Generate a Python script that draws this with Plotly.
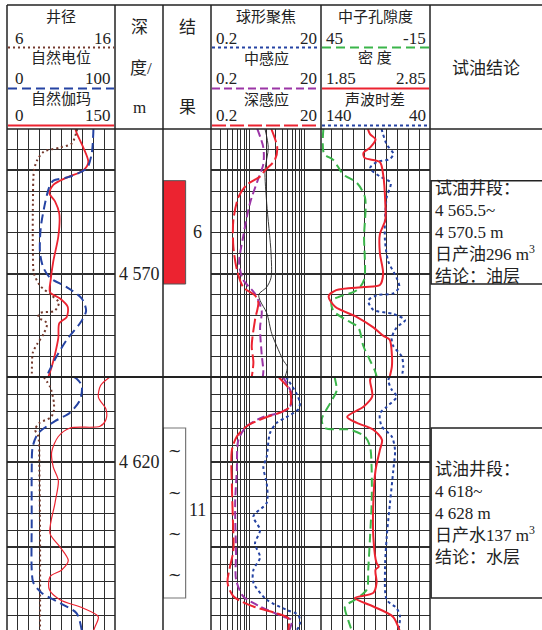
import math
import plotly.graph_objects as go

W, H = 542, 630
FONT = "Liberation Serif, 'Noto Sans CJK SC', serif"

# ---------------- data: upper interval (4563-4575 m) ----------------
cal_top_depth = [4563.0, 4563.2, 4563.7, 4563.9, 4564.1, 4564.5, 4565.0, 4566.6, 4569.0, 4570.0, 4570.6, 4571.0,
                 4571.4, 4571.8, 4571.9, 4572.1, 4572.4, 4572.9, 4573.4, 4573.8, 4574.8, 4575.0]
cal_top = [12.5, 12.4, 12.0, 10.9, 9.4, 8.8, 8.5, 8.4, 8.4, 8.5, 9.1, 10.0, 10.8, 10.4, 9.1, 8.9, 9.7, 9.4, 8.8, 8.4,
           8.3, 8.3]
sp_top_depth = [4563.0, 4563.2, 4564.2, 4564.9, 4565.35, 4565.5, 4565.8, 4566.6, 4567.8, 4569.0, 4569.7, 4570.2,
                4570.65, 4571.2, 4571.8, 4572.4, 4573.2, 4574.0, 4574.8, 4575.0]
sp_top = [80.0, 79.9, 78.4, 73.8, 55.3, 42.9, 39.2, 35.2, 31.2, 30.6, 33.6, 39.8, 55.3, 69.2, 73.2, 67.6, 55.3, 46.0,
          38.2, 37.0]
gr_top_depth = [4563.0, 4563.2, 4563.9, 4564.6, 4565.0, 4565.35, 4565.7, 4566.1, 4566.5, 4567.1, 4568.2, 4569.4,
                4570.3, 4570.9, 4571.2, 4571.6, 4572.1, 4572.4, 4573.1, 4573.9, 4574.5, 4575.0]
gr_top = [95.0, 96.8, 106.0, 112.9, 106.0, 82.9, 64.3, 58.8, 66.7, 72.6, 71.3, 64.3, 60.7, 59.7, 73.6, 84.3, 82.9,
          72.6, 71.3, 66.7, 62.1, 57.4]

rd_top_depth = [4563.0, 4563.9, 4564.5, 4565.0, 4565.3, 4565.7, 4566.3, 4567.4, 4568.7, 4569.8, 4570.65, 4571.05,
                4571.4, 4572.25, 4573.5, 4574.3, 4575.0]
rd_top = [2.5, 3.2, 2.9, 1.92, 1.56, 0.89, 0.63, 0.51, 0.51, 0.59, 0.77, 1.26, 1.45, 1.26, 1.10, 1.18, 1.10]
rm_top_depth = [4563.0, 4563.9, 4564.7, 4565.4, 4566.6, 4568.2, 4569.5, 4570.3, 4570.97, 4571.8, 4572.6, 4573.9,
                4574.7, 4575.0]
rm_top = [1.39, 1.79, 1.79, 1.45, 1.02, 0.77, 0.65, 0.77, 1.26, 1.67, 1.56, 1.67, 1.79, 1.75]
rs_top_depth = [4563.0, 4563.9, 4565.0, 4566.6, 4569.0, 4570.2, 4570.65, 4571.0, 4571.3, 4571.9, 4572.9, 4573.5,
                4574.2, 4574.5, 4575.0]
rs_top = [1.92, 2.20, 1.92, 2.06, 2.47, 2.47, 2.06, 1.48, 1.56, 2.06, 2.54, 3.13, 4.13, 4.88, 4.43]

cnl_top_depth = [4563.0, 4564.2, 4564.5, 4565.2, 4565.6, 4566.3, 4568.2, 4570.3, 4570.8, 4571.1, 4571.3, 4571.8,
                 4572.25, 4572.6, 4573.5, 4574.2, 4574.7, 4575.0]
cnl_top = [43.7, 43.3, 38.2, 32.7, 25.3, 20.8, 21.3, 21.3, 25.3, 34.5, 39.1, 38.2, 30.9, 24.5, 21.7, 18.0, 15.3, 14.3]
den_top_depth = [4563.0, 4563.25, 4563.5, 4563.9, 4564.15, 4564.4, 4564.6, 4565.2, 4566.6, 4567.4, 4568.1, 4569.0,
                 4570.0, 4570.55, 4570.65, 4570.8, 4571.1, 4571.6, 4572.1, 4572.6, 4573.0, 4573.2, 4573.9, 4574.5,
                 4575.0]
den_top = [2.28, 2.30, 2.35, 2.30, 2.24, 2.25, 2.39, 2.42, 2.44, 2.44, 2.39, 2.39, 2.42, 2.39, 2.24, 1.99, 1.92, 1.98,
           2.18, 2.33, 2.42, 2.48, 2.50, 2.50, 2.48]
ac_top_depth = [4563.0, 4563.75, 4564.2, 4564.45, 4564.6, 4564.9, 4565.3, 4565.6, 4566.3, 4567.4, 4568.4, 4569.4,
                4570.2, 4570.65, 4570.95, 4571.05, 4571.3, 4571.75, 4571.95, 4572.25, 4572.6, 4573.1, 4573.5, 4574.0,
                4574.5, 4575.0]
ac_top = [84.5, 79.7, 73.7, 76.7, 88.9, 95.0, 85.9, 76.1, 79.7, 81.3, 81.3, 78.3, 70.6, 68.2, 73.7, 88.9, 96.6, 92.0,
          73.7, 62.9, 70.6, 75.1, 73.7, 66.0, 64.5, 66.0]

# ---------------- data: lower interval (4615-4630 m) ----------------
cal_bot_depth = [4615.0, 4615.6, 4616.55, 4617.1, 4617.4, 4617.7, 4618.1, 4618.5, 4620.5, 4624.4, 4629.9]
cal_bot = [9.4, 10.0, 10.35, 10.3, 10.0, 9.0, 8.6, 8.9, 9.0, 9.06, 9.06]
sp_bot_depth = [4615.0, 4615.1, 4615.5, 4616.35, 4617.1, 4617.6, 4618.3, 4619.1, 4620.5, 4623.4, 4626.35, 4627.1,
                4627.7, 4628.3, 4628.9, 4629.9]
sp_bot = [62.0, 64.5, 69.2, 67.6, 58.3, 44.4, 29.0, 23.8, 22.9, 22.9, 22.9, 24.4, 32.1, 49.1, 64.5, 69.2]
gr_bot_depth = [4615.0, 4615.5, 4616.2, 4616.9, 4617.5, 4617.9, 4618.0, 4618.5, 4619.4, 4620.3, 4621.1, 4622.4,
                4624.2, 4625.0, 4625.8, 4626.35, 4626.75, 4627.5, 4628.1, 4628.6, 4629.1, 4629.7, 4630.0]
gr_bot = [143.0, 130.0, 127.0, 137.5, 137.5, 129.2, 87.5, 71.3, 62.1, 64.3, 71.3, 66.7, 59.7, 73.6, 85.1, 76.0, 59.7,
          58.8, 73.6, 106.0, 126.8, 122.2, 119.4]

rd_bot_depth = [4615.0, 4615.2, 4615.8, 4616.75, 4617.1, 4617.35, 4617.9, 4618.5, 4619.3, 4621.45, 4623.4, 4625.2,
                4626.2, 4627.1, 4627.9, 4628.5, 4628.9, 4629.2, 4629.9]
rd_bot = [3.4, 3.86, 5.46, 5.46, 3.59, 2.06, 0.89, 0.59, 0.48, 0.48, 0.50, 0.51, 0.44, 0.40, 0.51, 1.18, 3.13, 5.09,
          5.09]
rm_bot_depth = [4615.0, 4615.2, 4616.0, 4616.75, 4617.1, 4617.35, 4617.9, 4618.7, 4620.5, 4622.4, 4625.4, 4626.9,
                4627.9, 4628.5, 4629.1, 4629.3, 4629.9]
rm_bot = [4.0, 4.43, 5.86, 5.46, 3.59, 1.79, 0.89, 0.63, 0.59, 0.55, 0.57, 0.57, 0.77, 1.56, 4.13, 5.86, 5.3]
rs_bot_depth = [4615.0, 4615.2, 4616.0, 4616.55, 4616.9, 4617.35, 4617.7, 4618.3, 4619.7, 4620.3, 4621.25, 4622.4,
                4623.2, 4624.0, 4624.8, 4625.6, 4626.35, 4627.1, 4628.1, 4628.7, 4629.0, 4629.5, 4629.9]
rs_bot = [4.6, 5.09, 7.23, 8.30, 7.73, 4.76, 3.13, 2.36, 2.06, 1.79, 2.06, 2.06, 1.18, 1.56, 1.26, 1.56, 1.18, 1.18,
          2.06, 4.76, 7.73, 8.30, 7.23]

cnl_bot_depth = [4615.0, 4615.1, 4615.8, 4616.55, 4617.5, 4618.0, 4618.1, 4618.5, 4619.1, 4620.5, 4622.4, 4624.4,
                 4626.35, 4627.5, 4628.1, 4628.5, 4629.3, 4629.9]
cnl_bot = [37.5, 37.3, 36.4, 40.0, 44.6, 42.8, 29.0, 20.8, 18.0, 17.1, 17.1, 18.0, 19.0, 19.8, 26.3, 31.8, 30.0, 28.1]
den_bot_depth = [4615.0, 4615.2, 4616.15, 4616.75, 4617.35, 4617.7, 4618.1, 4618.7, 4619.3, 4620.5, 4622.4, 4624.4,
                 4625.95, 4626.15, 4626.35, 4627.1, 4627.7, 4628.0, 4628.5, 4629.1, 4629.9]
den_bot = [2.31, 2.30, 2.32, 2.24, 2.09, 2.18, 2.33, 2.41, 2.39, 2.35, 2.33, 2.33, 2.36, 2.38, 2.35, 2.36, 2.33, 2.16,
           2.33, 2.51, 2.57]
ac_bot_depth = [4615.0, 4615.2, 4615.75, 4616.15, 4616.75, 4617.15, 4617.9, 4618.5, 4619.3, 4620.5, 4622.4, 4624.4,
                4626.35, 4628.1, 4628.6, 4629.1, 4629.9]
ac_bot = [77.0, 78.3, 75.1, 70.6, 79.7, 85.9, 84.3, 75.1, 72.1, 73.7, 76.7, 79.7, 81.3, 79.7, 70.6, 67.5, 69.1]

# ---------------- interpretation ----------------
test_top = [4565.5, 4618.0]
test_bottom = [4570.5, 4628.0]
layer_no = ["6", "11"]
layer_label_depth = [4568.0, 4622.8]
water_sign_depth = [4619.3, 4621.8, 4624.2, 4626.6]
depth_label_values = [4570, 4620]
depth_label_text = ["4 570", "4 620"]
conclusion_text = ["试油井段：<br>4 565.5~<br>4 570.5 m<br>日产油296 m<sup>3</sup><br>结论：油层",
                   "试油井段：<br>4 618~<br>4 628 m<br>日产水137 m<sup>3</sup><br>结论：水层"]

top_range = [4575, 4563]
bot_range = [4615 + 253 / 17.0, 4615]

# ---------------- styles ----------------
RED = "#ec2330"
BLUE = "#2543a3"
PURPLE = "#9b35a6"
GREEN = "#3bb54a"
BROWN = "#74392c"
GRID = "#2e2e2e"
TXT = "#222222"


def xd(a, b):
    return [a / W, b / W]


def yd(top, bottom):
    return [max(0.0, 1 - bottom / H), 1 - top / H]


fig = go.Figure()


def curve(depth, vals, xa, ya, color, width, dash):
    fig.add_trace(go.Scatter(x=vals, y=depth, xaxis=xa, yaxis=ya, mode="lines",
                             line=dict(color=color, width=width, dash=dash, shape="spline", smoothing=0.8),
                             hoverinfo="skip", showlegend=False))


# track 1
curve(gr_top_depth, gr_top, "x", "y", RED, 1.8, "solid")
curve(gr_bot_depth, gr_bot, "x", "y2", RED, 1.2, "solid")
curve(cal_top_depth, cal_top, "x2", "y", BROWN, 2, "2px,3px")
curve(cal_bot_depth, cal_bot, "x2", "y2", BROWN, 2, "2px,3px")
curve(sp_top_depth, sp_top, "x3", "y", BLUE, 2, "9px,5px")
curve(sp_bot_depth, sp_bot, "x3", "y2", BLUE, 2, "9px,5px")
# resistivity track
curve(rs_top_depth, rs_top, "x4", "y", "#222222", 0.9, "solid")
curve(rs_bot_depth, rs_bot, "x4", "y2", BLUE, 2, "3px,3px")
curve(rm_top_depth, rm_top, "x4", "y", PURPLE, 2, "8px,4px")
curve(rm_bot_depth, rm_bot, "x4", "y2", PURPLE, 2, "8px,4px")
curve(rd_top_depth, rd_top, "x4", "y", RED, 2, "14px,4px")
curve(rd_bot_depth, rd_bot, "x4", "y2", RED, 2, "14px,4px")
# porosity track
curve(ac_top_depth, ac_top, "x5", "y", BLUE, 2, "3px,3px")
curve(ac_bot_depth, ac_bot, "x5", "y2", BLUE, 2, "3px,3px")
curve(cnl_top_depth, cnl_top, "x6", "y", GREEN, 2, "9px,5px")
curve(cnl_bot_depth, cnl_bot, "x6", "y2", GREEN, 2, "9px,5px")
curve(den_top_depth, den_top, "x7", "y", RED, 2, "solid")
curve(den_bot_depth, den_bot, "x7", "y2", RED, 2, "solid")

# result column bars (test intervals)
fig.add_trace(go.Bar(x=[0.5], y=[test_bottom[0] - test_top[0]], base=[test_top[0]], width=[0.98],
                     xaxis="x9", yaxis="y3", marker=dict(color=RED, line=dict(color="#555", width=1)),
                     hoverinfo="skip", showlegend=False))
fig.add_trace(go.Bar(x=[0.5], y=[test_bottom[1] - test_top[1]], base=[test_top[1]], width=[0.98],
                     xaxis="x9", yaxis="y4", marker=dict(color="white", line=dict(color="#777", width=1.2)),
                     hoverinfo="skip", showlegend=False))
# invisible anchors so that the no-grid subplots exist
for xa, ya, yv in [("x8", "y3", 4569), ("x8", "y4", 4620), ("x10", "y3", 4569), ("x10", "y4", 4620)]:
    fig.add_trace(go.Scatter(x=[0.5], y=[yv], xaxis=xa, yaxis=ya, mode="markers",
                             marker=dict(opacity=0, size=1), hoverinfo="skip", showlegend=False))


def atext(xref, yref, x, y, text, size, xanchor="center", align="center", family=FONT):
    fig.add_annotation(xref=xref, yref=yref, x=x, y=y, text=text, showarrow=False, xanchor=xanchor,
                       yanchor="middle", align=align, font=dict(family=family, size=size, color=TXT))


# depth labels
atext("x8", "y3", 0.5, depth_label_values[0], depth_label_text[0], 18)
atext("x8", "y4", 0.5, depth_label_values[1], depth_label_text[1], 18)
# layer numbers and water signs
atext("x9", "y3", 1.49, layer_label_depth[0], layer_no[0], 18)
atext("x9", "y4", 1.49, layer_label_depth[1], layer_no[1], 18)
for d in water_sign_depth:
    atext("x9", "y4", 0.5, d, "~", 16, family="DejaVu Serif")

hide = dict(showticklabels=False, ticks="", zeroline=False, showline=False)
grid_y = dict(showgrid=True, dtick=5, tick0=4560, gridcolor=GRID, gridwidth=2,
              minor=dict(dtick=1, tick0=4560, showgrid=True, gridcolor=GRID, gridwidth=1), **hide)

fig.update_layout(
    width=W, height=H, margin=dict(l=0, r=0, t=0, b=0),
    paper_bgcolor="white", plot_bgcolor="white", showlegend=False,
    xaxis=dict(domain=xd(7, 115), range=[0, 150], dtick=15, tick0=0, showgrid=True, gridcolor=GRID,
               gridwidth=1, anchor="y", **hide),
    xaxis2=dict(range=[6, 16], overlaying="x", anchor="y", showgrid=False, **hide),
    xaxis3=dict(range=[0, 100], overlaying="x", anchor="y", showgrid=False, **hide),
    xaxis4=dict(domain=xd(211, 321), type="log", range=[math.log10(0.2), math.log10(20)], dtick="D1",
                showgrid=True, gridcolor=GRID, gridwidth=1, anchor="y", **hide),
    xaxis5=dict(domain=xd(321, 430), range=[140, 40], dtick=10, tick0=40, showgrid=True, gridcolor=GRID,
                gridwidth=1, anchor="y", **hide),
    xaxis6=dict(range=[45, -15], overlaying="x5", anchor="y", showgrid=False, **hide),
    xaxis7=dict(range=[1.85, 2.85], overlaying="x5", anchor="y", showgrid=False, **hide),
    xaxis8=dict(domain=xd(115, 163), range=[0, 1], showgrid=False, anchor="y3", **hide),
    xaxis9=dict(domain=xd(163, 211), range=[0, 2.1], showgrid=False, anchor="y3", **hide),
    xaxis10=dict(domain=xd(430, 542), range=[0, 1], showgrid=False, anchor="y3", **hide),
    yaxis=dict(domain=yd(129, 377), range=top_range, anchor="x", **grid_y),
    yaxis2=dict(domain=yd(377, 630), range=bot_range, anchor="x", **grid_y),
    yaxis3=dict(domain=yd(129, 377), range=top_range, anchor="x8", showgrid=False, **hide),
    yaxis4=dict(domain=yd(377, 630), range=bot_range, anchor="x8", showgrid=False, **hide),
)

# conclusion boxes and text
for i, ya in enumerate(["y3", "y4"]):
    fig.add_shape(type="rect", xref="x10", yref=ya, x0=0.01, x1=1.03, y0=test_top[i], y1=test_bottom[i],
                  line=dict(color="#222", width=1.5), fillcolor="rgba(0,0,0,0)")
    atext("x10", ya, 0.025, (test_top[i] + test_bottom[i]) / 2, conclusion_text[i], 17, "left", "left")


def pline(x0, y0, x1, y1, color="#222", width=1.5, dash="solid"):
    fig.add_shape(type="line", xref="paper", yref="paper", x0=x0 / W, x1=x1 / W, y0=1 - y0 / H, y1=1 - y1 / H,
                  line=dict(color=color, width=width, dash=dash))


def ptext(xp, yp, text, size=15, xanchor="center"):
    fig.add_annotation(xref="paper", yref="paper", x=xp / W, y=1 - yp / H, text=text, showarrow=False,
                       xanchor=xanchor, yanchor="middle", font=dict(family=FONT, size=size, color=TXT))


# frame
pline(7, 5, 542, 5)
pline(7, 129, 542, 129)
pline(7, 377, 542, 377, width=2)
for xb in [7, 115, 163, 211, 321, 430]:
    pline(xb, 5, xb, 630, width=1.5)

# header samples
pline(8, 47.5, 114, 47.5, BROWN, 2, "2px,3px")
pline(8, 88.5, 114, 88.5, BLUE, 2, "9px,5px")
pline(8, 125.5, 114, 125.5, RED, 2, "solid")
pline(212, 47.5, 320, 47.5, BLUE, 2, "3px,3px")
pline(212, 88.5, 320, 88.5, PURPLE, 2, "8px,4px")
pline(212, 125.5, 320, 125.5, RED, 2, "14px,4px")
pline(322, 47.5, 429, 47.5, GREEN, 2, "9px,5px")
pline(322, 88.5, 429, 88.5, RED, 2, "solid")
pline(322, 125.5, 429, 125.5, BLUE, 2, "3px,3px")

# header text
ptext(61, 17, "井径", 15)
ptext(13, 38, "6", 17, "left")
ptext(113, 38, "16", 17, "right")
ptext(61, 58, "自然电位", 15)
ptext(13, 78, "0", 17, "left")
ptext(113, 78, "100", 17, "right")
ptext(61, 99, "自然伽玛", 15)
ptext(13, 115, "0", 17, "left")
ptext(113, 115, "150", 17, "right")

ptext(139, 28, "深", 17)
ptext(141, 68, "度/", 17)
ptext(139, 107, "m", 17)
ptext(187, 28, "结", 17)
ptext(187, 107, "果", 17)

ptext(266, 17, "球形聚焦", 15)
ptext(214, 38, "0.2", 17, "left")
ptext(319, 38, "20", 17, "right")
ptext(266, 58, "中感应", 15)
ptext(214, 78, "0.2", 17, "left")
ptext(319, 78, "20", 17, "right")
ptext(266, 99, "深感应", 15)
ptext(214, 115, "0.2", 17, "left")
ptext(319, 115, "20", 17, "right")

ptext(375, 17, "中子孔隙度", 15)
ptext(324, 38, "45", 17, "left")
ptext(428, 38, "-15", 17, "right")
ptext(375, 58, "密 度", 15)
ptext(324, 78, "1.85", 17, "left")
ptext(428, 78, "2.85", 17, "right")
ptext(375, 99, "声波时差", 15)
ptext(324, 115, "140", 17, "left")
ptext(428, 115, "40", 17, "right")

ptext(486, 68, "试油结论", 17)

fig.write_html("out.html", config={"displayModeBar": False, "staticPlot": True},
               post_script="document.body.style.margin='0px';")
